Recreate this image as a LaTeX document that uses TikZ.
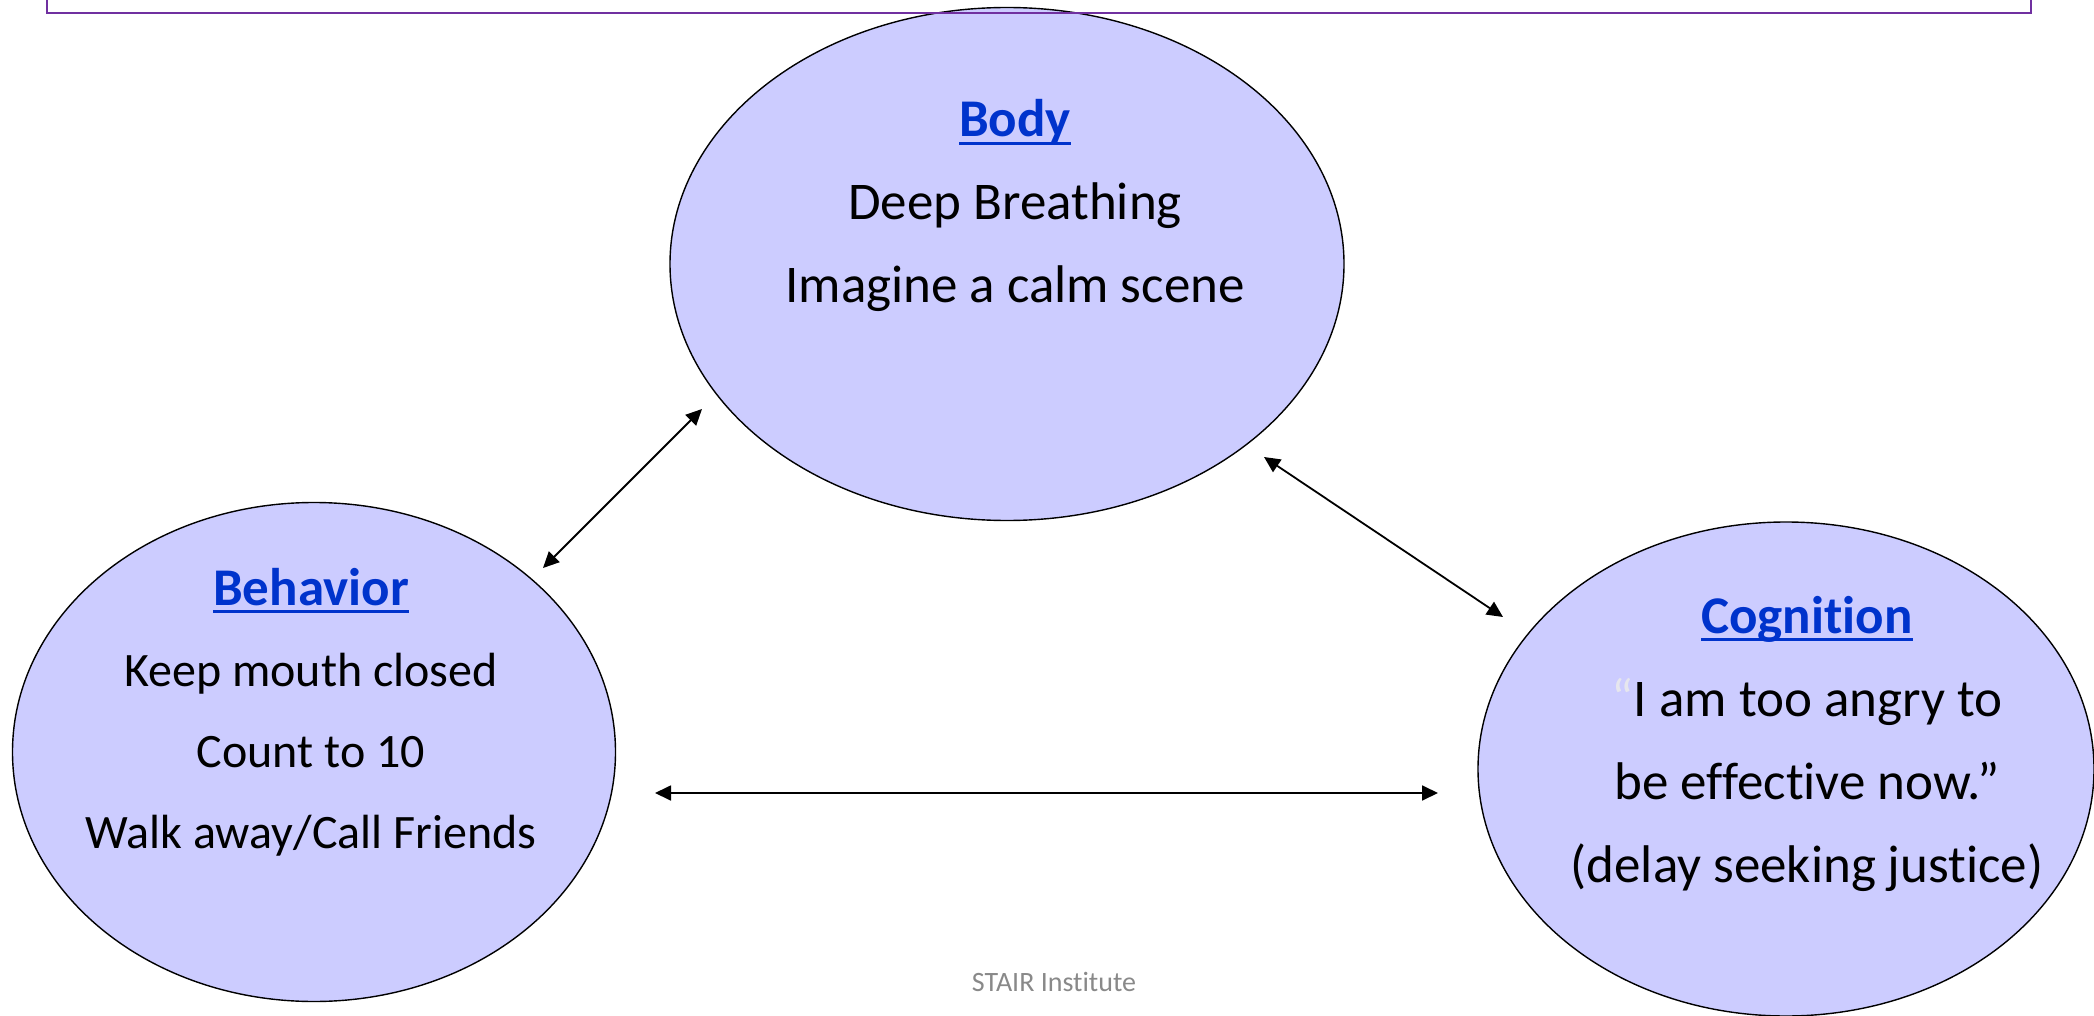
\documentclass[tikz,border=0pt]{standalone}
\usepackage{fontspec}
\setmainfont{Carlito}[Ligatures={NoCommon}]
\usetikzlibrary{shapes.geometric, arrows.meta}

\definecolor{bubblefill}{HTML}{CCCCFF}
\definecolor{headblue}{HTML}{0033CC}
\definecolor{framepurple}{HTML}{7030A0}
\definecolor{footgray}{HTML}{898989}
\definecolor{quotegray}{HTML}{E6E6EE}

% underlined blue heading
\newcommand{\heading}[1]{{\fontsize{53}{83}\selectfont\color{headblue}\bfseries\setbox0\hbox{#1}\rlap{\rule[-8pt]{\wd0}{2.6pt}}\box0}}

\begin{document}
\begin{tikzpicture}[x=1pt, y=-1pt,
  bubble/.style={ellipse, draw, line width=1.4pt, fill=bubblefill, inner sep=0pt},
  bubbletext/.style={align=center, anchor=base, inner sep=0pt, font=\fontsize{53}{83}\selectfont},
  link/.style={line width=1.8pt, {Triangle[length=16pt,width=15pt]}-{Triangle[length=16pt,width=15pt]}}]

  \useasboundingbox (0,0) rectangle (2094,1016);

  % --- Ellipses ---
  \node[bubble, minimum width=674pt, minimum height=513pt] (body) at (1007,264) {};
  \node[bubble, minimum width=603pt, minimum height=499pt] (behavior) at (314,752) {};
  \node[bubble, minimum width=616pt, minimum height=494pt] (cognition) at (1786,769) {};

  % --- Texts (anchored on the last baseline) ---
  \node[bubbletext] (bodytext) at (1015,303)
    {\heading{Body}\\Deep Breathing\\Imagine a calm scene};
  \node[bubbletext, font=\fontsize{48}{81}\selectfont] (behaviortext) at (311,848)
    {\heading{Behavior}\\Keep mouth closed\\Count to 10\\Walk away/Call Friends};
  \node[bubbletext] (cognitiontext) at (1807,882)
    {\heading{Cognition}\\\textcolor{quotegray}{“}I am too angry to\\be effective now.”\\(delay seeking justice)};

  % --- Arrow ends ---
  \coordinate (bodyL) at (702,409);
  \coordinate (behaviorR) at (543,568);
  \coordinate (bodyR) at (1264,457);
  \coordinate (cognitionL) at (1503,617);
  \coordinate (behaviorB) at (655,793);
  \coordinate (cognitionB) at (1438,793);

  % --- Arrows ---
  \draw[link] (bodyL) -- (behaviorR);
  \draw[link] (bodyR) -- (cognitionL);
  \draw[link] (behaviorB) -- (cognitionB);

  % --- Top frame ---
  \draw[framepurple, line width=1.3pt] (47,0) -- (47,13) -- (2031,13) -- (2031,0);

  % --- Footer ---
  \node[anchor=base, text=footgray, font=\fontsize{28}{32}\selectfont] (footer) at (1054,991) {STAIR Institute};

\end{tikzpicture}
\end{document}
